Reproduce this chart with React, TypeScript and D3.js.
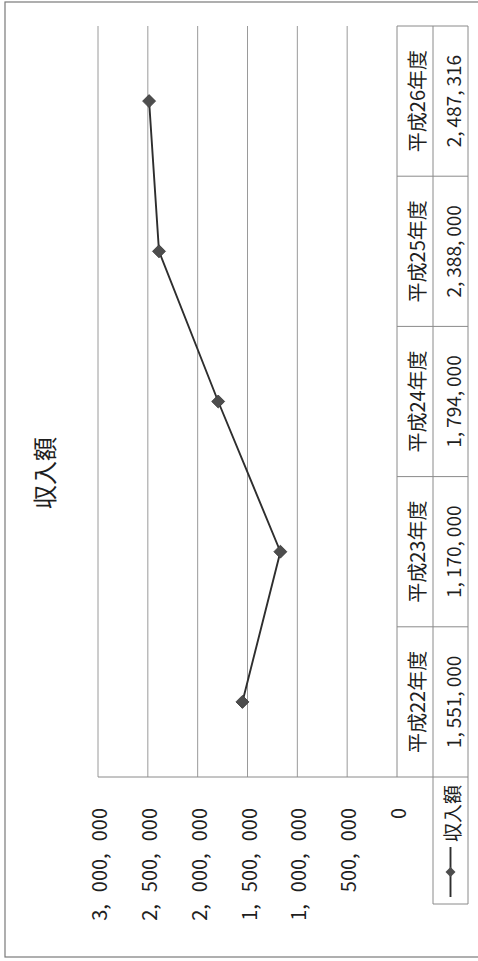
import React from 'react';
import * as d3 from 'd3';

const categories = ['平成22年度', '平成23年度', '平成24年度', '平成25年度', '平成26年度'];
const values = [1551000, 1170000, 1794000, 2388000, 2487316];
const ticks = [0, 500000, 1000000, 1500000, 2000000, 2500000, 3000000];
const seriesName = '収入額';
const title = '収入額';

const W = 478;
const H = 961;
const FONT = '"Noto Sans CJK JP", "Noto Sans", sans-serif';
const INK = '#1f1f1f';
const GRID = '#9a9a9a';

function spaced(s: string, dx: number) {
  const parts = s.split(',');
  return parts.map((p, i) => (
    <tspan key={i} dx={i > 0 ? dx : 0}>
      {p}
      {i < parts.length - 1 ? ',' : ''}
    </tspan>
  ));
}

export default function App() {
  // chart is drawn in its original (landscape) orientation, then rotated -90deg
  const x = d3.scaleBand<string>().domain(categories).range([184, 935]);
  const y = d3.scaleLinear().domain([0, 3000000]).range([397, 98]);
  const fmt = d3.format(',');
  const line = d3
    .line<number>()
    .x((_, i) => (x(categories[i]) as number) + x.bandwidth() / 2)
    .y((d) => y(d));
  const diamond = d3.symbol(d3.symbolSquare, 84)() as string;
  const tableTop = y(0);
  const rowMid = 433;
  const tableBot = 468;
  const legendLeft = 57;

  return (
    <svg
      width={W}
      height={H}
      style={{ position: 'fixed', left: 0, top: 0, background: '#fff' }}
      fontFamily={FONT}
    >
      <rect x={0} y={0} width={W} height={H} fill="#fff" />
      <g transform={`translate(0,${H}) rotate(-90)`}>
        {/* outer border */}
        <rect x={4} y={5} width={955} height={490} fill="none" stroke="#7a7a7a" strokeWidth={1.2} />
        {/* title */}
        <text x={488} y={43} fontSize={24} fill={INK} textAnchor="middle" dominantBaseline="central">
          {title}
        </text>
        {/* gridlines */}
        {ticks.slice(1).map((t) => (
          <line key={t} x1={184} x2={935} y1={y(t)} y2={y(t)} stroke={GRID} strokeWidth={1} />
        ))}
        {/* axis tick labels */}
        {ticks.map((t) => (
          <text
            key={t}
            x={153}
            y={y(t)}
            fontSize={20}
            fill={INK}
            textAnchor="end"
            dominantBaseline="central"
          >
            {spaced(fmt(t), 12)}
          </text>
        ))}
        {/* plot left edge & table */}
        <line x1={184} x2={184} y1={y(3000000)} y2={tableBot} stroke="#8a8a8a" />
        <line x1={184} x2={935} y1={tableTop} y2={tableTop} stroke="#8a8a8a" />
        <line x1={legendLeft} x2={935} y1={rowMid} y2={rowMid} stroke="#8a8a8a" />
        <line x1={legendLeft} x2={935} y1={tableBot} y2={tableBot} stroke="#8a8a8a" />
        <line x1={legendLeft} x2={legendLeft} y1={rowMid} y2={tableBot} stroke="#8a8a8a" />
        {categories.map((c) => (
          <line
            key={c}
            x1={(x(c) as number) + x.bandwidth()}
            x2={(x(c) as number) + x.bandwidth()}
            y1={tableTop}
            y2={tableBot}
            stroke="#8a8a8a"
          />
        ))}
        {categories.map((c, i) => (
          <g key={c}>
            <text
              x={(x(c) as number) + x.bandwidth() / 2}
              y={(tableTop + rowMid) / 2 + 1}
              fontSize={20}
              fill={INK}
              textAnchor="middle"
              dominantBaseline="central"
            >
              {c}
            </text>
            <text
              x={(x(c) as number) + x.bandwidth() / 2}
              y={(rowMid + tableBot) / 2 + 1}
              fontSize={19}
              fill={INK}
              textAnchor="middle"
              dominantBaseline="central"
            >
              {spaced(fmt(values[i]), 4)}
            </text>
          </g>
        ))}
        {/* series */}
        <path d={line(values) as string} fill="none" stroke="#2e2e2e" strokeWidth={1.9} />
        {values.map((v, i) => (
          <path
            key={i}
            d={diamond}
            transform={`translate(${(x(categories[i]) as number) + x.bandwidth() / 2},${y(v)}) rotate(45)`}
            fill="#4d4d4d"
            stroke="#3a3a3a"
            strokeWidth={0.8}
          />
        ))}
        {/* legend */}
        <line x1={64} x2={114} y1={(rowMid + tableBot) / 2} y2={(rowMid + tableBot) / 2} stroke="#2e2e2e" strokeWidth={1.9} />
        <path
          d={d3.symbol(d3.symbolSquare, 50)() as string}
          transform={`translate(89,${(rowMid + tableBot) / 2}) rotate(45)`}
          fill="#4d4d4d"
        />
        <text
          x={119}
          y={(rowMid + tableBot) / 2 + 1}
          fontSize={19}
          fill={INK}
          dominantBaseline="central"
        >
          {seriesName}
        </text>
      </g>
    </svg>
  );
}
